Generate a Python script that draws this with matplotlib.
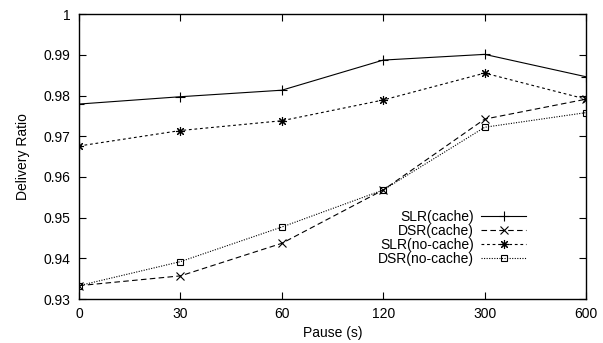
import matplotlib
matplotlib.use("Agg")
import matplotlib.pyplot as plt

pause_labels = ["0", "30", "60", "120", "300", "600"]
slr_cache = [0.9779, 0.9797, 0.9813, 0.9887, 0.9901, 0.9846]
dsr_cache = [0.9333, 0.9357, 0.9437, 0.9568, 0.9742, 0.9791]
slr_nocache = [0.9676, 0.9714, 0.9738, 0.9789, 0.9855, 0.9791]
dsr_nocache = [0.9333, 0.9392, 0.9477, 0.9568, 0.9722, 0.9758]
yticks = [0.93, 0.94, 0.95, 0.96, 0.97, 0.98, 0.99, 1.0]
ytick_labels = ["0.93", "0.94", "0.95", "0.96", "0.97", "0.98", "0.99", "1"]

plt.rcParams['font.family'] = ['Liberation Sans', 'DejaVu Sans']
fs = 10
fig = plt.figure(figsize=(6.03, 3.43), dpi=100)
ax = fig.add_axes([0.131, 0.128, 0.841, 0.831])

x = list(range(len(pause_labels)))
lw = 0.8
ax.plot(x, slr_cache, color='black', lw=lw, ls='-', marker='+', ms=7, mew=0.8,
        label='SLR(cache)')
ax.plot(x, dsr_cache, color='black', lw=lw, ls=(0, (5, 3)), marker='x', ms=5.5, mew=0.8,
        label='DSR(cache)')
ax.plot(x, slr_nocache, color='black', lw=lw, ls=(0, (2.5, 2.5)), marker=(8, 2, 0), ms=6.5, mew=0.8,
        label='SLR(no-cache)')
ax.plot(x, dsr_nocache, color='black', lw=lw, ls=(0, (1, 1.3)), marker='s', ms=5, mew=0.8,
        mfc='none', label='DSR(no-cache)')

ax.set_xlim(0, len(pause_labels) - 1)
ax.set_ylim(0.93, 1.0)
ax.set_xticks(x)
ax.set_xticklabels(pause_labels)
ax.set_yticks(yticks)
ax.set_yticklabels(ytick_labels)
ax.tick_params(direction='in', length=5, width=0.8, top=True, right=True,
               labelsize=fs, pad=6)
for s in ax.spines.values():
    s.set_linewidth(1.0)

ax.set_xlabel('Pause (s)', fontsize=fs, labelpad=3)
ax.set_ylabel('Delivery Ratio', fontsize=fs, labelpad=10)

leg = ax.legend(loc='center right', bbox_to_anchor=(0.895, 0.215), frameon=False,
                fontsize=fs, markerfirst=False, handlelength=3.2, handletextpad=0.55,
                labelspacing=0.0, borderpad=0)
for t in leg.get_texts():
    t.set_ha('right')
leg._legend_box.align = "right"

fig.savefig('out.png', dpi=100)
